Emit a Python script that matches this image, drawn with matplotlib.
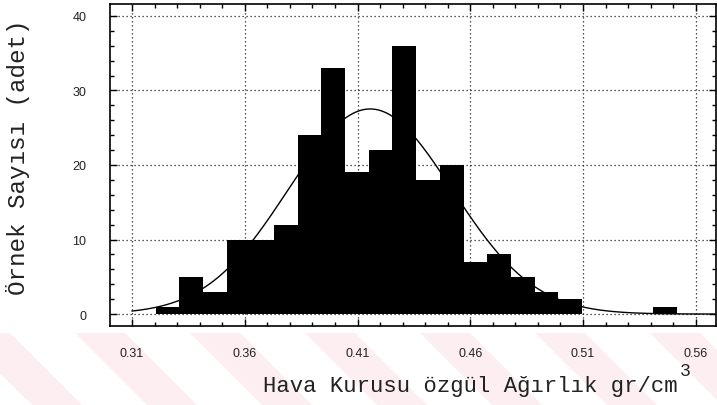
import numpy as np
import matplotlib.pyplot as plt
from matplotlib.patches import Polygon
from matplotlib.ticker import MultipleLocator

# Histogram classes (gr/cm3) and sample counts
bin_start = 0.3205
bin_width = 0.0105
counts = [1, 5, 3, 10, 10, 12, 24, 33, 19, 22, 36, 18, 20, 7, 8, 5, 3, 2, 0, 0, 0, 1]

x_ticks = [0.31, 0.36, 0.41, 0.46, 0.51, 0.56]
x_ticklabels = ['0.31', '0.36', '0.41', '0.46', '0.51', '0.56']
y_ticks = [0, 10, 20, 30, 40]
y_ticklabels = ['0', '10', '20', '30', '40']

counts = np.array(counts)
lefts = bin_start + bin_width * np.arange(len(counts))
centers = lefts + bin_width / 2

# normal curve fitted to the grouped data
n = counts.sum()
mu = (centers * counts).sum() / n
sigma = np.sqrt(((centers - mu) ** 2 * counts).sum() / n)
xc = np.linspace(0.31, 0.569, 400)
yc = n * bin_width * np.exp(-0.5 * ((xc - mu) / sigma) ** 2) / (sigma * np.sqrt(2 * np.pi))

W, H = 717, 406
fig = plt.figure(figsize=(W / 100, H / 100), dpi=100)
fig.patch.set_facecolor('white')

# faint pink diagonal bands along the bottom of the page
for x0 in [-40, 75, 190, 305, 420, 535, 650]:
    pts = [(x0, 334), (x0 + 50, 334), (x0 + 50 + 72, 406), (x0 + 72, 406)]
    pts = [(px / W, 1 - py / H) for (px, py) in pts]
    fig.patches.append(Polygon(pts, closed=True, transform=fig.transFigure,
                               facecolor='#fdeef1', edgecolor='none', zorder=-1))

ax = fig.add_axes([110 / W, 1 - 327 / H, (716 - 110) / W, (327 - 5) / H])
ax.set_facecolor('none')

ax.bar(lefts, counts, width=bin_width, align='edge', color='black', linewidth=0, zorder=2)
ax.plot(xc, yc, color='black', linewidth=1.0, zorder=3)

ax.set_xlim(0.3002, 0.569)
ax.set_ylim(-1.6, 41.6)

tick_font = dict(family='Liberation Sans', fontsize=9, color='#222222')
ax.set_xticks(x_ticks)
ax.set_xticklabels(x_ticklabels, **tick_font)
ax.set_yticks(y_ticks)
ax.set_yticklabels(y_ticklabels, **tick_font)
ax.xaxis.set_minor_locator(MultipleLocator(0.01))
ax.yaxis.set_minor_locator(MultipleLocator(2))

ax.tick_params(which='both', direction='in', top=True, right=True, color='black', width=1)
ax.tick_params(which='major', length=5)
ax.tick_params(which='minor', length=3)
ax.tick_params(axis='x', which='major', pad=15)
ax.tick_params(axis='y', which='major', pad=17)

ax.grid(True, which='major', color='#222222', linestyle=(0, (1, 2.2)), linewidth=0.9)
ax.set_axisbelow(True)

for s in ax.spines.values():
    s.set_linewidth(1.2)
    s.set_color('black')

fig.text(18 / W, 1 - 157 / H, 'Örnek Sayısı (adet)', rotation=90,
         ha='center', va='center', family='Liberation Mono', fontsize=17.5, color='#222222')
fig.text(470 / W, 1 - 387 / H, 'Hava Kurusu özgül Ağırlık gr/cm',
         ha='center', va='center', family='Liberation Mono', fontsize=16, color='#222222')
fig.text(685 / W, 1 - 371 / H, '3', ha='center', va='center',
         family='Liberation Mono', fontsize=13, color='#222222')

fig.savefig('out.png', dpi=100)
